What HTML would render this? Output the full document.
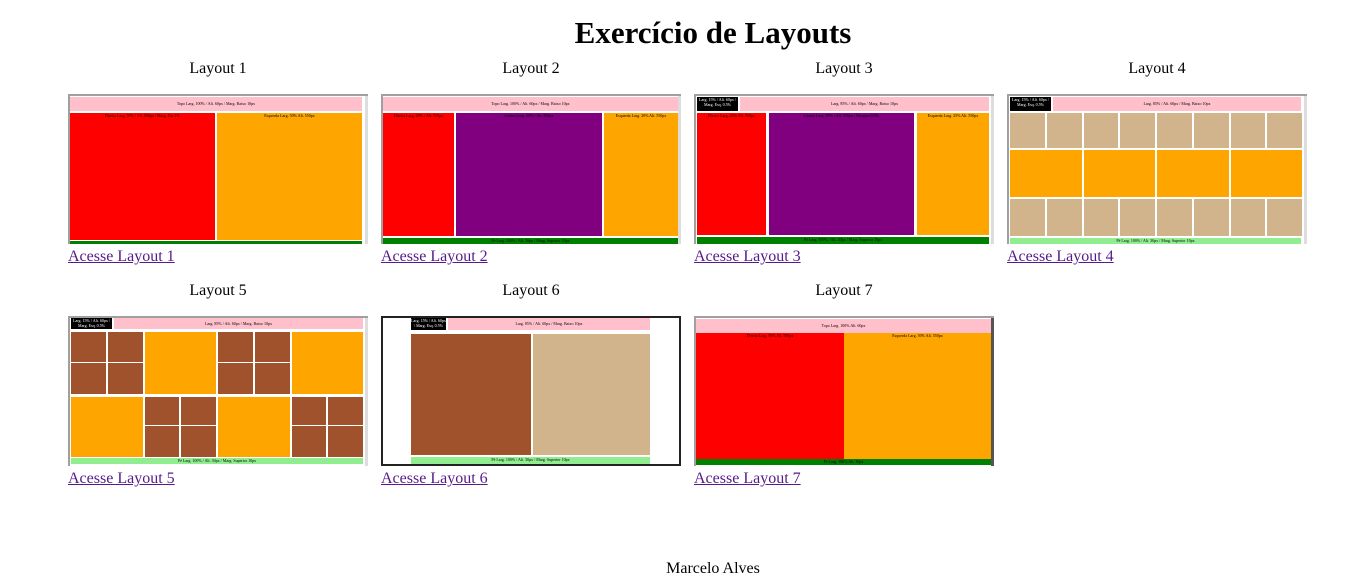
<!DOCTYPE html>
<html><head><meta charset="utf-8"><style>
body{margin:0;width:1366px;height:588px;background:#fff;font-family:"Liberation Serif",serif;position:relative;overflow:hidden}
.a{position:absolute}
.t{position:absolute;font-size:16px;color:#000;text-align:center;width:300px}
.l{position:absolute;font-size:16px;color:#551a8b;text-decoration:underline}
.f{position:absolute;width:300px;height:150px;box-sizing:border-box;border:2px solid #a0a0a0;border-right:none;border-bottom:none;background:#fff}
.s{position:absolute;font-size:4px;line-height:5px;text-align:center;color:#000;overflow:hidden}
.P{background:#ffc0cb}.R{background:#f00}.O{background:#ffa500}.G{background:#008000}.U{background:#800080}.K{background:#000}.T{background:#d2b48c}.B{background:#a0522d}.LG{background:#90ee90}
</style></head><body>
<div class="a" style="left:0;width:1426px;top:15px;text-align:center;font-size:31px;font-weight:bold">Exercício de Layouts</div>

<div class="t" style="left:68px;top:60px">Layout 1</div>
<div class="t" style="left:381px;top:60px">Layout 2</div>
<div class="t" style="left:694px;top:60px">Layout 3</div>
<div class="t" style="left:1007px;top:60px">Layout 4</div>
<div class="t" style="left:68px;top:282px">Layout 5</div>
<div class="t" style="left:381px;top:282px">Layout 6</div>
<div class="t" style="left:694px;top:282px">Layout 7</div>

<div class="l" style="left:68px;top:248px">Acesse Layout 1</div>
<div class="l" style="left:381px;top:248px">Acesse Layout 2</div>
<div class="l" style="left:694px;top:248px">Acesse Layout 3</div>
<div class="l" style="left:1007px;top:248px">Acesse Layout 4</div>
<div class="l" style="left:68px;top:470px">Acesse Layout 5</div>
<div class="l" style="left:381px;top:470px">Acesse Layout 6</div>
<div class="l" style="left:694px;top:470px">Acesse Layout 7</div>

<div class="f" style="left:68px;top:94px"></div>
<div class="f" style="left:381px;top:94px"></div>
<div class="f" style="left:694px;top:94px"></div>
<div class="f" style="left:1007px;top:94px"></div>
<div class="f" style="left:68px;top:316px"></div>
<div class="f" style="left:381px;top:316px;border:2px solid #222"></div>
<div class="f" style="left:694px;top:316px"></div>
<div class="a" style="left:365px;top:96px;width:3px;height:148px;background:#ddd"></div>
<div class="a" style="left:678px;top:96px;width:3px;height:148px;background:#ddd"></div>
<div class="a" style="left:991px;top:96px;width:3px;height:148px;background:#ddd"></div>
<div class="a" style="left:1304px;top:96px;width:3px;height:148px;background:#ddd"></div>
<div class="a" style="left:365px;top:318px;width:3px;height:148px;background:#ddd"></div>
<div class="a" style="left:991px;top:318px;width:3px;height:148px;background:#555"></div>

<!-- L1 -->
<div class="a s P" style="left:70px;top:97px;width:292px;height:14px;line-height:14px">Topo Larg. 100% / Alt. 60px / Marg. Baixo 10px</div>
<div class="a s R" style="left:70px;top:113px;width:145px;height:127px">Direita Larg. 50% / Alt. 550px / Marg. Dir. 1%</div>
<div class="a s O" style="left:217px;top:113px;width:145px;height:127px">Esquerda Larg. 50% Alt. 550px</div>
<div class="a G" style="left:70px;top:241px;width:292px;height:3px"></div>
<!-- L2 -->
<div class="a s P" style="left:383px;top:97px;width:295px;height:14px;line-height:14px">Topo Larg. 100% / Alt. 60px / Marg. Baixo 10px</div>
<div class="a s R" style="left:383px;top:113px;width:71px;height:123px">Direita Larg. 20% / Alt. 550px</div>
<div class="a s U" style="left:456px;top:113px;width:146px;height:123px">Centro Larg. 50% / Alt. 550px</div>
<div class="a s O" style="left:604px;top:113px;width:74px;height:123px">Esquerda Larg. 20% Alt. 550px</div>
<div class="a s G" style="left:383px;top:238px;width:295px;height:6px">Pé Larg. 100% / Alt. 30px / Marg. Superior 10px</div>
<!-- L3 -->
<div class="a s K" style="left:697px;top:97px;width:41px;height:14px;color:#fff">Larg. 15% / Alt. 60px / Marg. Esq. 0.5%</div>
<div class="a s P" style="left:740px;top:97px;width:249px;height:14px;line-height:14px">Larg. 85% / Alt. 60px / Marg. Baixo 10px</div>
<div class="a s R" style="left:697px;top:113px;width:69px;height:122px">Direita Larg. 25% Alt. 550px</div>
<div class="a s U" style="left:769px;top:113px;width:145px;height:122px">Centro Larg. 50% / Alt. 550px / Margem 0.5%</div>
<div class="a s O" style="left:917px;top:113px;width:72px;height:122px">Esquerda Larg. 25% Alt. 550px</div>
<div class="a s G" style="left:697px;top:237px;width:292px;height:7px">Pé Larg. 100% / Alt. 30px / Marg. Superior 10px</div>
<!-- L4 -->
<div class="a s K" style="left:1010px;top:97px;width:41px;height:14px;color:#fff">Larg. 15% / Alt. 60px / Marg. Esq. 0.5%</div>
<div class="a s P" style="left:1053px;top:97px;width:248px;height:14px;line-height:14px">Larg. 85% / Alt. 60px / Marg. Baixo 10px</div>
<div class="a" style="left:1010px;top:113px;width:292px;height:124px;display:grid;grid-template-columns:repeat(8,1fr);grid-template-rows:35px 47px 37px;gap:2px 2px">
<div class="T"></div><div class="T"></div><div class="T"></div><div class="T"></div><div class="T"></div><div class="T"></div><div class="T"></div><div class="T"></div>
<div class="O" style="grid-column:span 2"></div><div class="O" style="grid-column:span 2"></div><div class="O" style="grid-column:span 2"></div><div class="O" style="grid-column:span 2"></div>
<div class="T"></div><div class="T"></div><div class="T"></div><div class="T"></div><div class="T"></div><div class="T"></div><div class="T"></div><div class="T"></div>
</div>
<div class="a s LG" style="left:1010px;top:238px;width:291px;height:6px">Pé Larg. 100% / Alt. 30px / Marg. Superior 10px</div>
<!-- L5 -->
<div class="a s K" style="left:71px;top:318px;width:41px;height:11px;color:#fff">Larg. 15% / Alt. 60px / Marg. Esq. 0.5%</div>
<div class="a s P" style="left:114px;top:318px;width:249px;height:11px;line-height:11px">Larg. 85% / Alt. 60px / Marg. Baixo 10px</div>
<div class="a" style="left:71px;top:332px;width:292px;height:124px;display:grid;grid-template-columns:repeat(8,1fr);grid-template-rows:30px 31px 30px 31px;gap:1px 2px">
<div class="B"></div><div class="B"></div><div class="O" style="grid-column:span 2;grid-row:span 2"></div><div class="B"></div><div class="B"></div><div class="O" style="grid-column:span 2;grid-row:span 2"></div>
<div class="B"></div><div class="B"></div><div class="B"></div><div class="B"></div>
<div class="O" style="grid-column:span 2;grid-row:span 2;margin-top:2px"></div><div class="B" style="margin-top:2px"></div><div class="B" style="margin-top:2px"></div><div class="O" style="grid-column:span 2;grid-row:span 2;margin-top:2px"></div><div class="B" style="margin-top:2px"></div><div class="B" style="margin-top:2px"></div>
<div class="B"></div><div class="B"></div><div class="B"></div><div class="B"></div>
</div>
<div class="a s LG" style="left:71px;top:458px;width:292px;height:6px">Pé Larg. 100% / Alt. 30px / Marg. Superior 10px</div>
<!-- L6 -->
<div class="a s K" style="left:411px;top:318px;width:35px;height:12px;color:#fff">Larg. 15% / Alt. 60px / Marg. Esq. 0.5%</div>
<div class="a s P" style="left:448px;top:318px;width:202px;height:12px;line-height:12px">Larg. 85% / Alt. 60px / Marg. Baixo 10px</div>
<div class="a B" style="left:411px;top:334px;width:120px;height:121px"></div>
<div class="a T" style="left:533px;top:334px;width:117px;height:121px"></div>
<div class="a s LG" style="left:411px;top:457px;width:239px;height:7px">Pé Larg. 100% / Alt. 30px / Marg. Superior 10px</div>
<!-- L7 -->
<div class="a s P" style="left:696px;top:319px;width:295px;height:14px;line-height:14px">Topo Larg. 100% Alt. 60px</div>
<div class="a s R" style="left:696px;top:333px;width:148px;height:126px">Direita Larg. 50% Alt. 550px</div>
<div class="a s O" style="left:844px;top:333px;width:147px;height:126px">Esquerda Larg. 50% Alt. 550px</div>
<div class="a s G" style="left:696px;top:459px;width:295px;height:6px">Pé Larg. 100% Alt. 30px</div>

<div class="a" style="left:0;width:1426px;top:560px;text-align:center;font-size:16px">Marcelo Alves</div>
</body></html>
